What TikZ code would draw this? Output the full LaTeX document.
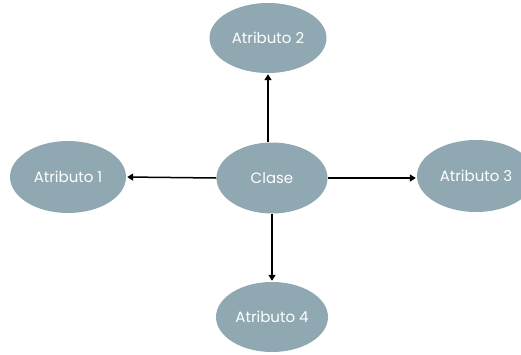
\documentclass[tikz,border=0pt]{standalone}
\usepackage{fontspec}
\setmainfont{Poppins}
\usetikzlibrary{shapes.geometric,arrows.meta}
\definecolor{attr}{HTML}{8FA8B2}
\tikzset{
  blob/.style={ellipse, fill=attr, draw=none, text=white, minimum width=#1, font=\fontsize{15}{17}\selectfont, inner sep=0pt},
  blob/.default={117pt},
  link/.style={draw=black, line width=1.5pt, -{Triangle[length=6pt,width=7pt]}, shorten >=1pt}
}
\begin{document}
\begin{tikzpicture}[x=1pt,y=-1pt]
\useasboundingbox (0,0) rectangle (521,354);
\node[blob=117pt, minimum height=70pt] (a2) at (268,38) {Atributo 2};
\node[blob=116pt, minimum height=72pt] (a1) at (68,177) {Atributo 1};
\node[blob=111pt, minimum height=71pt] (c) at (272,178) {Clase};
\node[blob=118pt, minimum height=72pt] (a3) at (476,176) {Atributo 3};
\node[blob=112pt, minimum height=70pt] (a4) at (272,317) {Atributo 4};
\draw[link] (c.north -| 268,0) -- (a2.south -| 268,0);
\draw[link] (c.west) -- (a1.east);
\draw[link] (c.east) -- (a3.west |- c.east);
\draw[link] (c.south) -- (a4.north);
\end{tikzpicture}
\end{document}
